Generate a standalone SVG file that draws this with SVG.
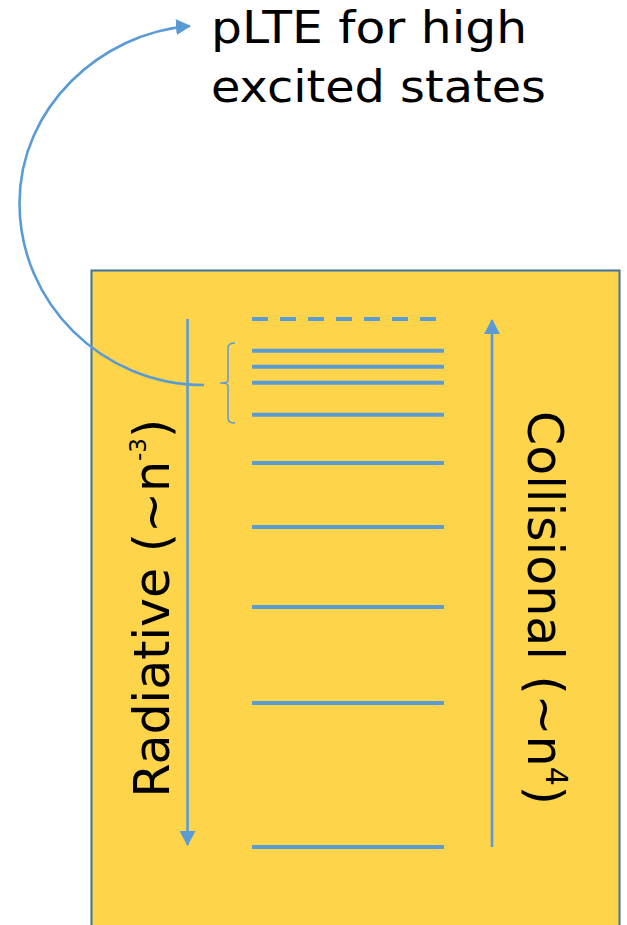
<svg xmlns="http://www.w3.org/2000/svg" width="627" height="925" viewBox="0 0 627 925">
<style>
.lvl{stroke:#5B9BD5;stroke-width:4;fill:none}
.arr{stroke:#5B9BD5;stroke-width:2.6;fill:none}
.lbl{font-family:"DejaVu Sans",Verdana,sans-serif;fill:#000}
</style>
<defs>
<marker id="ah2" markerWidth="15" markerHeight="16" refX="14" refY="8" orient="auto" markerUnits="userSpaceOnUse" viewBox="0 0 15 16">
<path d="M0,0 L15,8 L0,16 Z" fill="#5B9BD5"/>
</marker>
</defs>
<rect width="627" height="925" fill="#fff"/>
<g id="box">
<rect x="91.5" y="270.5" width="528" height="670" fill="#FED44B" stroke="#41719C" stroke-width="2"/>
</g>
<g id="levels">
<line class="lvl" x1="252" y1="319" x2="436" y2="319" stroke-dasharray="16 12"/>
<line class="lvl" x1="252" y1="350.7" x2="444" y2="350.7"/>
<line class="lvl" x1="252" y1="366.7" x2="444" y2="366.7"/>
<line class="lvl" x1="252" y1="382.7" x2="444" y2="382.7"/>
<line class="lvl" x1="252" y1="414.7" x2="444" y2="414.7"/>
<line class="lvl" x1="252" y1="463" x2="444" y2="463"/>
<line class="lvl" x1="252" y1="527" x2="444" y2="527"/>
<line class="lvl" x1="252" y1="607" x2="444" y2="607"/>
<line class="lvl" x1="252" y1="703" x2="444" y2="703"/>
<line class="lvl" x1="252" y1="847" x2="444" y2="847"/>
</g>
<g id="bracket">
<path d="M235,343 Q228,343 228,348 L228,380 Q228,383 222,383 L220,383 M222,383 Q228,383 228,386 L228,418 Q228,423 235,423" fill="none" stroke="#5B9BD5" stroke-width="1.5"/>
</g>
<g id="connectors">
<line class="arr" x1="187.5" y1="319" x2="187.5" y2="845" marker-end="url(#ah2)"/>
<line class="arr" x1="492" y1="847" x2="492" y2="320" marker-end="url(#ah2)"/>
<path class="arr" d="M204,385 C102,385 19.5,303.5 19.5,203 C19.5,108 100,33 190,26" marker-end="url(#ah2)"/>
</g>
<g id="title">
<text class="lbl" x="211" y="43.3" font-size="45" textLength="316" lengthAdjust="spacingAndGlyphs">pLTE for high</text>
<text class="lbl" x="211" y="101.5" font-size="45" textLength="335" lengthAdjust="spacingAndGlyphs">excited states</text>
</g>
<g id="radiative">
<text class="lbl" transform="translate(168.5,797.5) rotate(-90)" font-size="49">Radiative (~n<tspan font-size="23" dy="-23">-3</tspan><tspan dy="23">)</tspan></text>
</g>
<g id="collisional">
<text class="lbl" transform="translate(528,411) rotate(90)" font-size="49">Collisional (~n<tspan font-size="30" dy="-18">4</tspan><tspan dy="18">)</tspan></text>
</g>
</svg>
